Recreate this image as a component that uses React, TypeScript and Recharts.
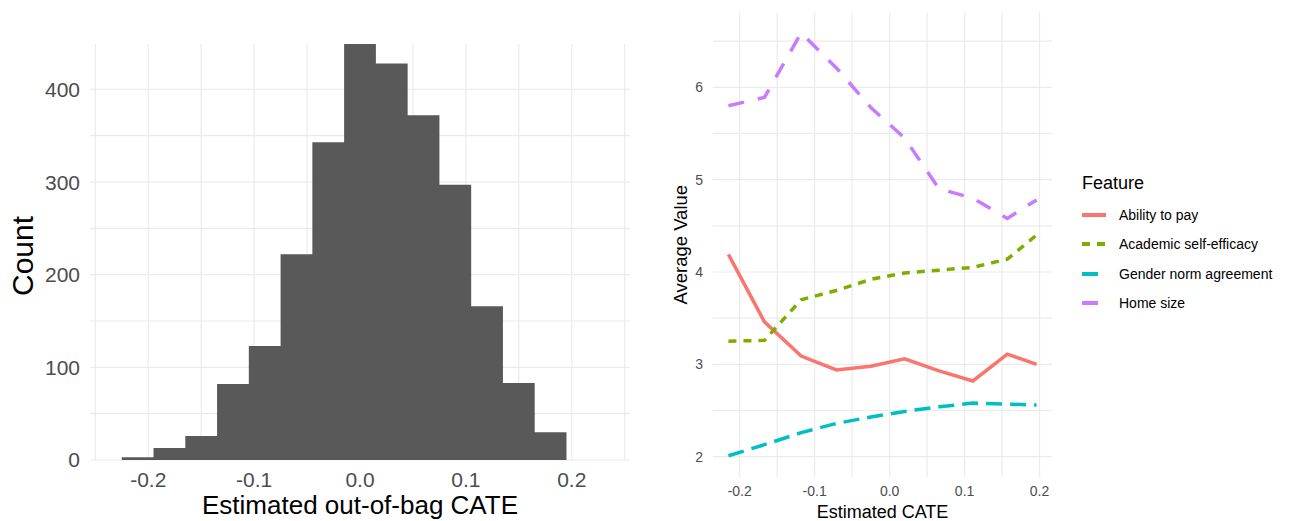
import { AreaChart, Area, LineChart, Line, XAxis, YAxis, CartesianGrid, Legend, Label } from 'recharts'

// histogram of out-of-bag CATE (binwidth 0.03)
const BIN_EDGES = [-0.225, -0.195, -0.165, -0.135, -0.105, -0.075, -0.045, -0.015, 0.015, 0.045, 0.075, 0.105, 0.135, 0.165, 0.195]
const BIN_COUNTS = [3, 13, 26, 82, 123, 222, 343, 449, 428, 372, 297, 166, 83, 30]
const HIST_X_TICKS = [-0.2, -0.1, 0, 0.1, 0.2]
const HIST_X_GRID = [-0.25, -0.2, -0.15, -0.1, -0.05, 0, 0.05, 0.1, 0.15, 0.2, 0.25]
const HIST_Y_TICKS = [0, 100, 200, 300, 400]
const HIST_Y_GRID = [0, 50, 100, 150, 200, 250, 300, 350, 400]

// average feature values by estimated CATE
const CATE_POINTS = [-0.215, -0.167, -0.118, -0.071, -0.025, 0.02, 0.066, 0.111, 0.157, 0.196]
const ABILITY_TO_PAY = [4.19, 3.46, 3.09, 2.94, 2.98, 3.06, 2.93, 2.82, 3.11, 3.0]
const SELF_EFFICACY = [3.25, 3.26, 3.7, 3.8, 3.92, 3.99, 4.02, 4.05, 4.14, 4.4]
const GENDER_NORM = [2.01, 2.13, 2.26, 2.36, 2.43, 2.49, 2.54, 2.58, 2.57, 2.56]
const HOME_SIZE = [5.8, 5.89, 6.59, 6.21, 5.78, 5.45, 4.9, 4.8, 4.58, 4.78]
const LINE_X_TICKS = [-0.2, -0.1, 0, 0.1, 0.2]
const LINE_X_GRID = [-0.2, -0.15, -0.1, -0.05, 0, 0.05, 0.1, 0.15, 0.2]
const LINE_Y_TICKS = [2, 3, 4, 5, 6]
const LINE_Y_GRID = [2, 2.5, 3, 3.5, 4, 4.5, 5, 5.5, 6, 6.5]

const SERIES = [
  { key: 'ability', name: 'Ability to pay', color: '#F8766D', dash: undefined as string | undefined },
  { key: 'efficacy', name: 'Academic self-efficacy', color: '#7CAE00', dash: '8 7' },
  { key: 'gender', name: 'Gender norm agreement', color: '#00BFC4', dash: '16 8' },
  { key: 'home', name: 'Home size', color: '#C77CFF', dash: '16 14' },
]

const FONT = '"Liberation Sans", Arial, Helvetica, sans-serif'
const GRID = '#EBEBEB'
const TICK = '#4D4D4D'

const histData = BIN_EDGES.map((x, i) => ({ x, count: i < BIN_COUNTS.length ? BIN_COUNTS[i] : 0 }))

const lineData = CATE_POINTS.map((x, i) => ({
  x,
  ability: ABILITY_TO_PAY[i],
  efficacy: SELF_EFFICACY[i],
  gender: GENDER_NORM[i],
  home: HOME_SIZE[i],
}))

const fmt = (v: number) => v.toFixed(1)

function FeatureLegend() {
  return (
    <div style={{ fontFamily: FONT, color: '#000' }}>
      <div style={{ fontSize: 18, lineHeight: '22px', marginBottom: 6 }}>Feature</div>
      {SERIES.map(s => (
        <div key={s.key} style={{ display: 'flex', alignItems: 'center', height: 29.5 }}>
          <svg width={24} height={10} style={{ display: 'block' }}>
            <line x1={0} y1={5} x2={24} y2={5} stroke={s.color} strokeWidth={4} strokeDasharray={s.dash} />
          </svg>
          <span style={{ fontSize: 14, marginLeft: 13 }}>{s.name}</span>
        </div>
      ))}
    </div>
  )
}

export default function App() {
  return (
    <div style={{ position: 'absolute', left: 0, top: 0, width: 1294, height: 521, background: '#fff', fontFamily: FONT }}>
      <div style={{ position: 'absolute', left: 0, top: 0 }}>
        <AreaChart width={640} height={521} data={histData} margin={{ top: 44, right: 10, bottom: 0, left: 30 }}>
          <CartesianGrid stroke={GRID} strokeWidth={1.2} horizontalValues={HIST_Y_GRID} verticalValues={HIST_X_GRID} />
          <XAxis
            type="number"
            dataKey="x"
            domain={[-0.255, 0.255]}
            ticks={HIST_X_TICKS}
            tickFormatter={fmt}
            axisLine={false}
            tickLine={false}
            tickSize={0}
            tickMargin={12}
            height={61}
            tick={{ fill: TICK, fontSize: 21, fontFamily: FONT }}
            allowDataOverflow
          >
            <Label value="Estimated out-of-bag CATE" position="insideBottom" offset={7.5} fill="#000" fontSize={26} fontFamily={FONT} />
          </XAxis>
          <YAxis
            domain={[0, 449]}
            ticks={HIST_Y_TICKS}
            axisLine={false}
            tickLine={false}
            tickSize={0}
            tickMargin={10}
            width={60}
            tick={{ fill: TICK, fontSize: 21, fontFamily: FONT }}
            allowDataOverflow
          >
            <Label value="Count" angle={-90} position="center" dx={-38} dy={4} fill="#000" fontSize={30} fontFamily={FONT} />
          </YAxis>
          <Area
            type="stepAfter"
            dataKey="count"
            stroke="none"
            fill="#595959"
            fillOpacity={1}
            isAnimationActive={false}
            dot={false}
            activeDot={false}
          />
        </AreaChart>
      </div>
      <div style={{ position: 'absolute', left: 640, top: 0 }}>
        <LineChart width={654} height={521} data={lineData} margin={{ top: 12.5, right: 242, bottom: 0, left: 33 }}>
          <CartesianGrid stroke={GRID} strokeWidth={1.2} horizontalValues={LINE_Y_GRID} verticalValues={LINE_X_GRID} />
          <XAxis
            type="number"
            dataKey="x"
            domain={[-0.2356, 0.2166]}
            ticks={LINE_X_TICKS}
            tickFormatter={fmt}
            axisLine={false}
            tickLine={false}
            tickSize={0}
            tickMargin={9}
            height={44}
            tick={{ fill: TICK, fontSize: 14, fontFamily: FONT }}
            allowDataOverflow
          >
            <Label value="Estimated CATE" position="insideBottom" offset={3} fill="#000" fontSize={18} fontFamily={FONT} />
          </XAxis>
          <YAxis
            domain={[1.78, 6.81]}
            ticks={LINE_Y_TICKS}
            axisLine={false}
            tickLine={false}
            tickSize={0}
            tickMargin={10}
            width={40}
            tick={{ fill: TICK, fontSize: 14, fontFamily: FONT }}
            allowDataOverflow
          >
            <Label value="Average Value" angle={-90} position="center" dx={-13} fill="#000" fontSize={18.5} fontFamily={FONT} />
          </YAxis>
          <Legend
            layout="vertical"
            align="center"
            verticalAlign="middle"
            wrapperStyle={{ left: 442, top: 172, width: 212 }}
            content={() => <FeatureLegend />}
          />
          {SERIES.map(s => (
            <Line
              key={s.key}
              type="linear"
              dataKey={s.key}
              name={s.name}
              stroke={s.color}
              strokeWidth={3.5}
              strokeDasharray={s.dash}
              dot={false}
              activeDot={false}
              isAnimationActive={false}
            />
          ))}
        </LineChart>
      </div>
    </div>
  )
}
